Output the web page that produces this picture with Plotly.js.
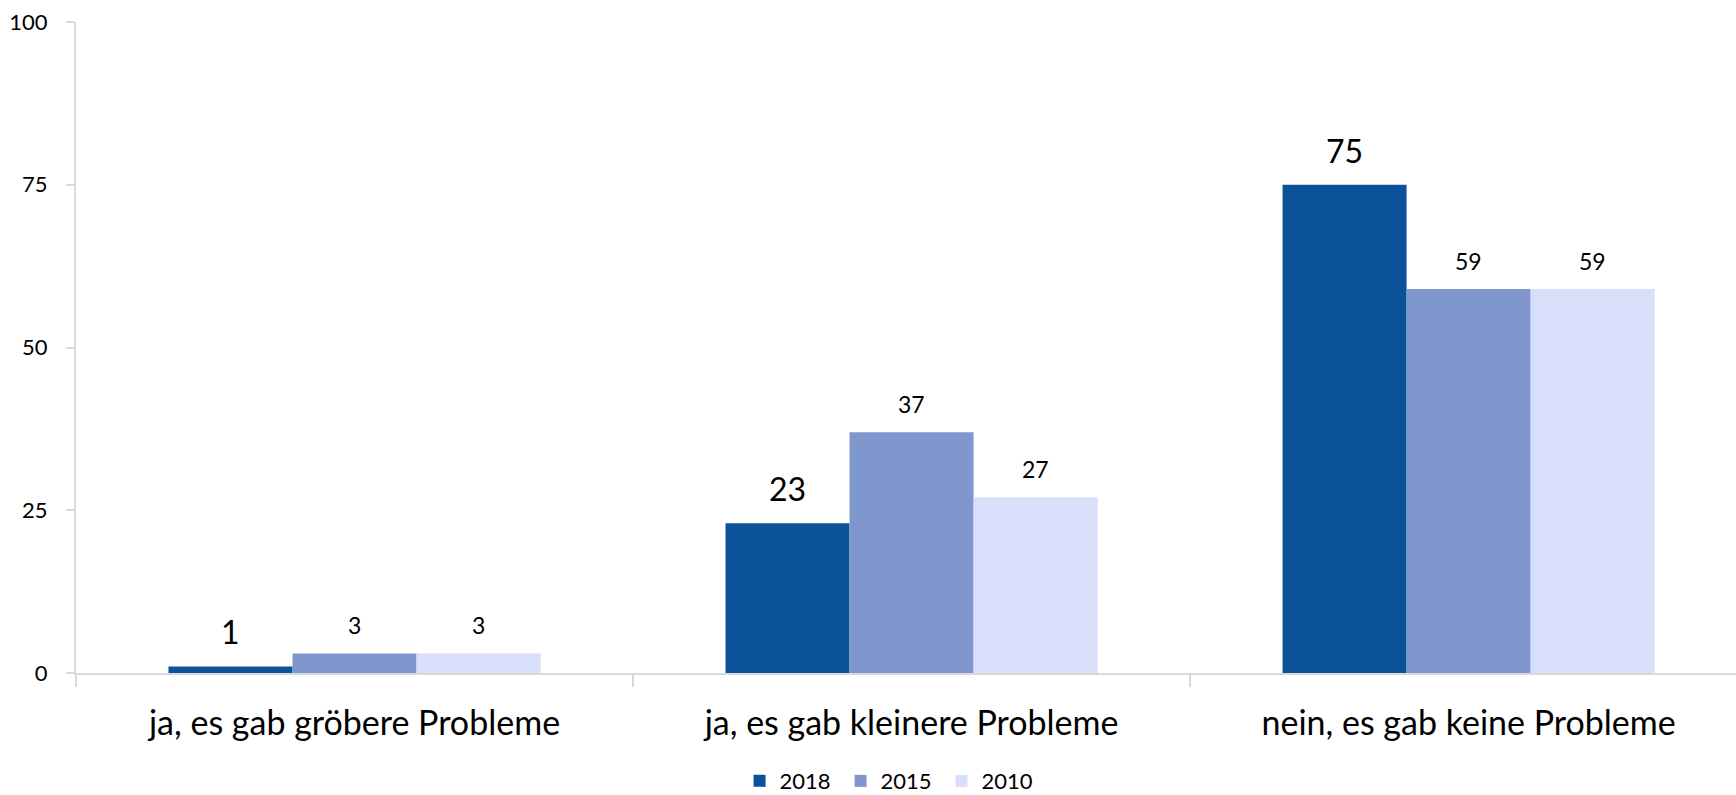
<!DOCTYPE html>
<html>
<head>
<meta charset="utf-8">
<script src="https://cdn.plot.ly/plotly-3.0.1.min.js"></script>
<style>html,body{margin:0;padding:0;background:#fff;}#chart{width:1736px;height:795px;}</style>
</head>
<body>
<div id="chart"></div>
<script>
const categories = ["ja, es gab gröbere Probleme", "ja, es gab kleinere Probleme", "nein, es gab keine Probleme"];
const seriesNames = ["2018", "2015", "2010"];
const values2018 = [1, 23, 75];
const values2015 = [3, 37, 59];
const values2010 = [3, 27, 59];
const yTicks = [0, 25, 50, 75, 100];

const colors = ["#0B529B", "#7F97CC", "#D7DFFB"];
const labelSizes = [32, 23, 23];
const allValues = [values2018, values2015, values2010];

const W = 1736, H = 795;
const margin = {l: 76, r: 0, t: 22, b: 122, autoexpand: false};
const xRange = [-0.5, 2.48];
const bargap = 0.332;
const font = "Lato, 'Open Sans', sans-serif";

const plotW = W - margin.l - margin.r;
const catPx = plotW / (xRange[1] - xRange[0]);
const barPx = catPx * (1 - bargap) / seriesNames.length;

const traces = seriesNames.map((name, i) => ({
  type: "bar",
  name: name,
  x: categories,
  y: allValues[i],
  marker: {color: colors[i], line: {width: 0}},
  hoverinfo: "x+y+name"
}));

const annotations = [];
allValues.forEach((vals, i) => {
  vals.forEach((v, j) => {
    annotations.push({
      x: categories[j], y: v, xref: "x", yref: "y",
      text: String(v), showarrow: false,
      xanchor: "center", yanchor: "bottom",
      xshift: (i - 1) * barPx, yshift: i === 0 ? 13 : 12,
      font: {family: font, size: labelSizes[i], color: "#000"}
    });
  });
});

const layout = {
  width: W, height: H,
  margin: margin,
  paper_bgcolor: "#fff", plot_bgcolor: "#fff",
  font: {family: font, color: "#000"},
  barmode: "group",
  bargap: bargap,
  bargroupgap: 0,
  showlegend: true,
  legend: {
    orientation: "h", x: 0.491, xanchor: "center", y: -0.166, yanchor: "middle",
    font: {family: font, size: 22, color: "#000"},
    entrywidth: 56, entrywidthmode: "pixels", itemclick: false
  },
  xaxis: {
    type: "category", range: xRange, automargin: false,
    showline: true, linecolor: "#D9D9D9", linewidth: 2,
    ticks: "outside", tickson: "boundaries", ticklen: 12, tickcolor: "#D9D9D9", tickwidth: 2,
    showgrid: false, zeroline: false,
    tickfont: {family: font, size: 34, color: "#000"},
    ticklabelstandoff: 19,
    fixedrange: true
  },
  yaxis: {
    range: [0, 100], tickvals: yTicks, ticktext: yTicks.map(String), automargin: false,
    showline: true, linecolor: "#D9D9D9", linewidth: 2,
    ticks: "outside", ticklen: 8, tickcolor: "#D9D9D9", tickwidth: 2,
    showgrid: false, zeroline: false,
    tickfont: {family: font, size: 22, color: "#000"},
    ticklabelstandoff: 14,
    fixedrange: true
  },
  annotations: annotations
};

Plotly.newPlot("chart", traces, layout, {displayModeBar: false, staticPlot: false});
</script>
</body>
</html>
